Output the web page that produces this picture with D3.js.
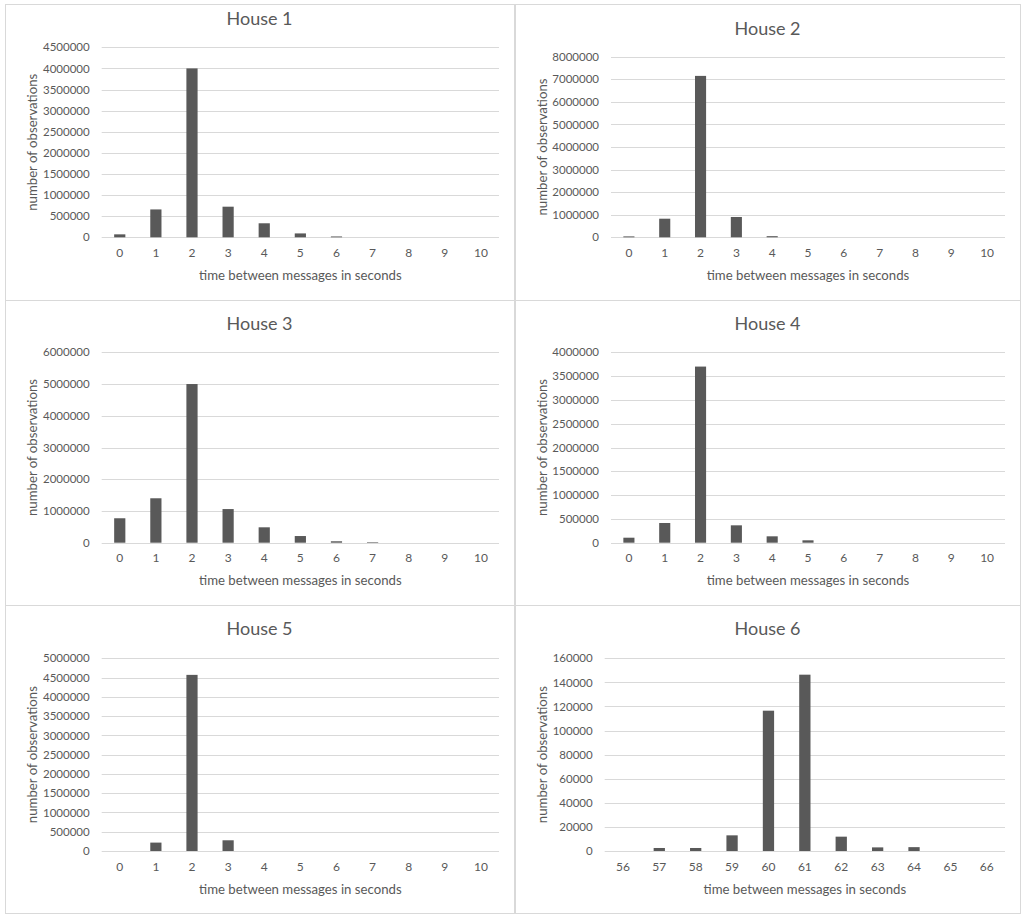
<!DOCTYPE html>
<html>
<head>
<meta charset="utf-8">
<script src="https://cdn.jsdelivr.net/npm/d3@7"></script>
<style>
  html, body { margin: 0; padding: 0; background: #fff; }
  svg { display: block; }
  text { font-family: Lato, "Liberation Sans", sans-serif; fill: #595959; }
</style>
</head>
<body>
<svg id="chart" width="1024" height="919"></svg>
<script>
// ---------- DATA ----------
const titles = ["House 1", "House 2", "House 3", "House 4", "House 5", "House 6"];
const categoriesShort = ["0","1","2","3","4","5","6","7","8","9","10"];
const categoriesHouse6 = ["56","57","58","59","60","61","62","63","64","65","66"];
const house1 = [70000, 660000, 4000000, 725000, 332000, 92000, 20000, 0, 0, 0, 0];
const house2 = [40000, 824000, 7150000, 900000, 50000, 0, 0, 0, 0, 0, 0];
const house3 = [770000, 1400000, 5000000, 1060000, 485000, 210000, 45000, 18000, 0, 0, 0];
const house4 = [105000, 414000, 3700000, 365000, 134000, 50000, 0, 0, 0, 0, 0];
const house5 = [0, 218000, 4570000, 278000, 0, 0, 0, 0, 0, 0, 0];
const house6 = [0, 2500, 2500, 13000, 116500, 146400, 11900, 3000, 3200, 0, 0];
const yMaxes = [4500000, 8000000, 6000000, 4000000, 5000000, 160000];
const yTickSteps = [500000, 1000000, 1000000, 500000, 500000, 20000];
const xAxisTitle = "time between messages in seconds";
const yAxisTitle = "number of observations";

const seriesList = [house1, house2, house3, house4, house5, house6];
const categoryList = [categoriesShort, categoriesShort, categoriesShort, categoriesShort, categoriesShort, categoriesHouse6];

// ---------- LAYOUT ----------
const layout = [
  { px0: 5,   px1: 514,  py0: 4,   py1: 300, left: 101.7, right: 499,  top: 47.3,  bottom: 237.3, titleY: 18.3 },
  { px0: 515, px1: 1020, py0: 4,   py1: 300, left: 611,   right: 1005, top: 56.7,  bottom: 237.3, titleY: 28.3 },
  { px0: 5,   px1: 514,  py0: 300, py1: 605, left: 101.7, right: 499,  top: 352.3, bottom: 542.7, titleY: 323.3 },
  { px0: 515, px1: 1020, py0: 300, py1: 605, left: 611,   right: 1005, top: 352.3, bottom: 542.7, titleY: 323.3 },
  { px0: 5,   px1: 514,  py0: 605, py1: 913, left: 101.7, right: 499,  top: 658.3, bottom: 851,   titleY: 629 },
  { px0: 515, px1: 1020, py0: 605, py1: 913, left: 604.7, right: 1005, top: 658.3, bottom: 851,   titleY: 629 }
];

const svg = d3.select("#chart");
svg.append("rect").attr("width", 1024).attr("height", 919).attr("fill", "#fff");

seriesList.forEach((values, i) => {
  const L = layout[i];
  const cats = categoryList[i];
  const g = svg.append("g");

  // panel border
  g.append("rect")
    .attr("x", L.px0 + 0.5).attr("y", L.py0 + 0.5)
    .attr("width", L.px1 - L.px0).attr("height", L.py1 - L.py0)
    .attr("fill", "none").attr("stroke", "#d9d9d9").attr("stroke-width", 1);

  const x = d3.scaleBand().domain(cats).range([L.left, L.right])
    .paddingInner(0.69).paddingOuter(0.345);
  const y = d3.scaleLinear().domain([0, yMaxes[i]]).range([L.bottom, L.top]);
  const ticks = d3.range(0, yMaxes[i] + yTickSteps[i] / 2, yTickSteps[i]);

  // gridlines
  g.append("g").selectAll("line").data(ticks).join("line")
    .attr("x1", L.left).attr("x2", L.right)
    .attr("y1", d => Math.round(y(d)) + 0.5).attr("y2", d => Math.round(y(d)) + 0.5)
    .attr("stroke", "#d9d9d9").attr("stroke-width", 1);

  // y axis labels
  const yAxis = d3.axisLeft(y).tickValues(ticks).tickSize(0).tickPadding(12)
    .tickFormat(d3.format("d"));
  const ya = g.append("g").attr("transform", `translate(${L.left},0)`).call(yAxis);
  ya.select(".domain").remove();
  ya.selectAll("text").attr("font-size", "11.5px").attr("fill", "#595959")
    .style("font-family", "Lato, 'Liberation Sans', sans-serif");

  // x axis labels
  const xAxis = d3.axisBottom(x).tickSize(0).tickPadding(11);
  const xa = g.append("g").attr("transform", `translate(0,${L.bottom})`).call(xAxis);
  xa.select(".domain").remove();
  xa.selectAll("text").attr("font-size", "12px").attr("fill", "#595959")
    .style("font-family", "Lato, 'Liberation Sans', sans-serif");

  // bars
  g.append("g").selectAll("rect").data(values.map((v, k) => ({ c: cats[k], v })))
    .join("rect")
    .attr("x", d => x(d.c))
    .attr("width", x.bandwidth())
    .attr("y", d => y(d.v))
    .attr("height", d => y(0) - y(d.v))
    .attr("fill", "#595959");

  // title
  g.append("text")
    .attr("x", (L.px0 + L.px1) / 2).attr("y", L.titleY)
    .attr("dy", "0.35em").attr("text-anchor", "middle")
    .attr("font-size", "18px").text(titles[i]);

  // x axis title
  g.append("text")
    .attr("x", (L.left + L.right) / 2).attr("y", L.bottom + 38)
    .attr("dy", "0.35em").attr("text-anchor", "middle")
    .attr("font-size", "13.2px").text(xAxisTitle);

  // y axis title
  g.append("text")
    .attr("transform", `translate(${L.px0 + 27.5},${(L.top + L.bottom) / 2}) rotate(-90)`)
    .attr("dy", "0.35em").attr("text-anchor", "middle")
    .attr("font-size", "13.2px").text(yAxisTitle);
});
</script>
</body>
</html>
